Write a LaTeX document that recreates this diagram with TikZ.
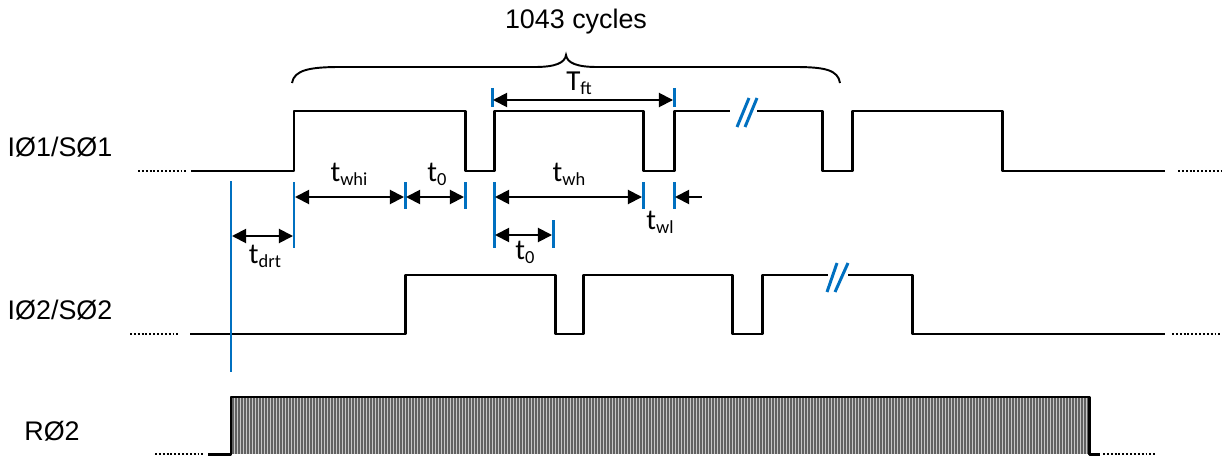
\documentclass[tikz,border=0pt]{standalone}
\usepackage{fontspec}
\setmainfont{Liberation Sans}
\newfontfamily\calfont{Carlito}
\usetikzlibrary{arrows.meta}
\definecolor{tickblue}{RGB}{0,112,192}
\newcommand{\tsub}[2]{{\calfont\fontsize{16.5}{18}\selectfont #1\raisebox{-0.3ex}{\fontsize{10.5}{12}\selectfont #2}}}

\begin{document}
\begin{tikzpicture}[x=0.02cm, y=-0.02cm,
	sig/.style={line width=1.7pt, line join=round},
	dots/.style={line width=1.5pt, dash pattern=on 1.1pt off 1.1pt},
	tick/.style={tickblue, line width=1.7pt},
	dim/.style={line width=1.1pt, {Triangle[length=8pt,width=8pt]}-{Triangle[length=8pt,width=8pt]}},
	lbl/.style={font=\fontsize{15.3}{18}\selectfont, inner sep=0pt}]
	\useasboundingbox (0,0) rectangle (1222,456);
	% Signal names
	\node[lbl] (s1) at (60,147) {IØ1/SØ1};
	\node[lbl] (s2) at (60,310) {IØ2/SØ2};
	\node[lbl] (r2) at (52,431) {RØ2};
	\node[lbl] (cyc) at (576,22) {1043 cycles};
	% Brace
	\draw[line width=1.1pt] (292,83) .. controls (294,70) and (310,67) .. (340,67) -- (535,67)
		.. controls (555,67) and (565,63) .. (566,55) .. controls (567,63) and (577,67) .. (597,67)
		-- (795,67) .. controls (825,67) and (838,70) .. (840,83);
	% IO1/SO1
	\draw[dots] (138,171) -- (186,171);
	\draw[sig] (191,171) -- (294,171) -- (294,111) -- (465,111) -- (465,171) -- (494,171) -- (494,111)
		-- (643,111) -- (643,171) -- (674,171) -- (674,111) -- (730,111);
	\draw[sig] (757,111) -- (822,111) -- (822,171) -- (852,171) -- (852,111) -- (1002,111) -- (1002,171) -- (1165,171);
	\draw[dots] (1178,171) -- (1222,171);
	\draw[tick] (737,127) -- (749,98);
	\draw[tick] (745,127) -- (757,98);
	% IO2/SO2
	\draw[dots] (130,334) -- (178,334);
	\draw[sig] (190,334) -- (405,334) -- (405,275) -- (555,275) -- (555,334) -- (583,334) -- (583,275)
		-- (732,275) -- (732,334) -- (762,334) -- (762,275) -- (828,275);
	\draw[sig] (848,275) -- (912,275) -- (912,334) -- (1165,334);
	\draw[dots] (1172,334) -- (1222,334);
	\draw[tick] (827,292) -- (837,263);
	\draw[tick] (835,292) -- (848,263);
	% RO2
	\fill[gray!45] (231,397) rectangle (1089,454);
	\foreach \x in {233,236,...,1088}
		\draw[black!62, line width=0.95pt] (\x,397) -- (\x,454);
	\draw[dots] (155,454) -- (203,454);
	\draw[sig] (208,454) -- (231,454) -- (231,397) -- (1089,397) -- (1089,454) -- (1100,454);
	\draw[dots] (1103,454) -- (1155,454);
	% Blue marks
	\draw[tick] (231,181) -- (231,372);
	\draw[tick] (294,182) -- (294,248);
	\draw[tick] (494,182) -- (494,248);
	\draw[tick] (553,220) -- (553,248);
	\foreach \x in {405,465,643,674}
		\draw[tick] (\x,182) -- (\x,209);
	\foreach \x in {492,674}
		\draw[tick] (\x,88) -- (\x,107);
	% Dimension ends
	\coordinate (drtA) at (232,236);
	\coordinate (drtB) at (293,236);
	\coordinate (whiA) at (295,197);
	\coordinate (whiB) at (404,197);
	\coordinate (zeroA) at (406,197);
	\coordinate (zeroB) at (464,197);
	\coordinate (whA) at (495,197);
	\coordinate (whB) at (642,197);
	\coordinate (wlA) at (702,197);
	\coordinate (wlB) at (675,197);
	\coordinate (zerA) at (495,235);
	\coordinate (zerB) at (552,235);
	\coordinate (ftA) at (493,100);
	\coordinate (ftB) at (673,100);
	% Dimension arrows with labels
	\draw[dim] (drtA) -- (drtB);
	\draw[dim] (whiA) -- (whiB);
	\draw[dim] (zeroA) -- (zeroB);
	\draw[dim] (whA) -- (whB);
	\draw[dim, {Triangle[length=8pt,width=8pt]}-] (wlB) -- (wlA);
	\draw[dim] (zerA) -- (zerB);
	\draw[dim] (ftA) -- (ftB);
	\node[inner sep=0pt] (tdrt) at (265,256) {\tsub{t}{drt}};
	\node[inner sep=0pt] (twhi) at (349,174) {\tsub{t}{whi}};
	\node[inner sep=0pt] (tzero) at (437,174) {\tsub{t}{0}};
	\node[inner sep=0pt] (twh) at (569,174) {\tsub{t}{wh}};
	\node[inner sep=0pt] (twl) at (660,222) {\tsub{t}{wl}};
	\node[inner sep=0pt] (tzer) at (525,252) {\tsub{t}{0}};
	\node[inner sep=0pt] (tft) at (579,83) {\tsub{T}{ft}};
\end{tikzpicture}
\end{document}
